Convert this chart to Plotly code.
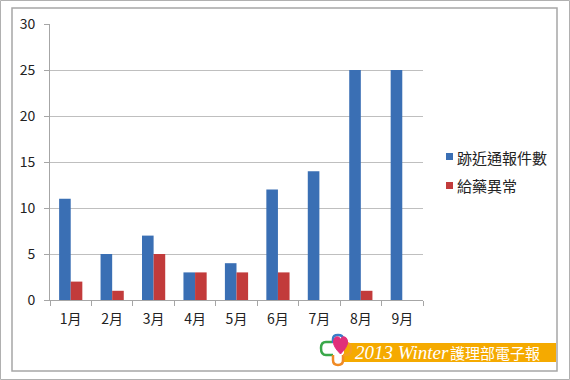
import plotly.graph_objects as go

months = ["1月", "2月", "3月", "4月", "5月", "6月", "7月", "8月", "9月"]
near_miss = [11, 5, 7, 3, 4, 12, 14, 25, 25]
med_error = [2, 1, 5, 3, 3, 3, None, 1, None]
series_names = ["跡近通報件數", "給藥異常"]
series_colors = ["#3a6fb4", "#c23b3b"]

W, H = 570, 380
L, R, T, B = 50, 423, 24, 300  # plot area in pixels

def px(x):
    return (x - L) / (R - L)

def py(y):
    return (B - y) / (B - T)

fig = go.Figure()
fig.add_bar(x=months, y=near_miss, name=series_names[0],
            marker=dict(color=series_colors[0], line=dict(width=0)))
fig.add_bar(x=months, y=med_error, name=series_names[1],
            marker=dict(color=series_colors[1], line=dict(width=0)))

font_cjk = "Noto Sans CJK TC, Noto Sans, sans-serif"

fig.update_layout(
    width=W, height=H,
    margin=dict(l=L, r=W - R, t=T, b=H - B, autoexpand=False),
    paper_bgcolor="white", plot_bgcolor="white",
    barmode="group", bargap=0.44, bargroupgap=0,
    font=dict(family=font_cjk, size=13, color="#222"),
    showlegend=False,
    xaxis=dict(showgrid=False, showline=True, linecolor="#a6a6a6", linewidth=1,
               ticks="outside", ticklen=5, tickcolor="#a6a6a6", tickson="boundaries",
               tickfont=dict(size=14), ticklabelstandoff=6, fixedrange=True),
    yaxis=dict(range=[0, 30], dtick=5, showgrid=True, gridcolor="#bfbfbf", gridwidth=1,
               showline=True, linecolor="#a6a6a6", linewidth=1, zeroline=False,
               ticks="outside", ticklen=5, tickcolor="#a6a6a6",
               tickfont=dict(size=14), ticklabelstandoff=6, fixedrange=True),
)

shapes = []
# outer image edge
shapes.append(dict(type="rect", xref="paper", yref="paper",
                   x0=px(0.5), x1=px(569.5), y0=py(0.5), y1=py(379.5),
                   line=dict(color="#b0b0b0", width=1), layer="below"))
# chart border
shapes.append(dict(type="rect", xref="paper", yref="paper",
                   x0=px(12), x1=px(557), y0=py(8), y1=py(371),
                   line=dict(color="#a6a6a6", width=1.5), layer="below"))

# manual legend
leg_y = [157, 186]
for name, color, yy in zip(series_names, series_colors, leg_y):
    shapes.append(dict(type="rect", xref="paper", yref="paper",
                       x0=px(446), x1=px(453), y0=py(yy + 3), y1=py(yy - 4),
                       fillcolor=color, line=dict(width=0)))
    fig.add_annotation(xref="paper", yref="paper", x=px(455), y=py(yy),
                       xanchor="left", yanchor="middle", showarrow=False,
                       text=name, font=dict(family=font_cjk, size=15, color="#222"))

# orange banner
shapes.append(dict(type="rect", xref="paper", yref="paper",
                   x0=px(344), x1=px(556), y0=py(343), y1=py(362),
                   fillcolor="#f5aa00", line=dict(width=0)))

def arm(path_pts, color):
    return dict(type="path", xref="paper", yref="paper", path=path_pts,
                line=dict(color=color, width=2.5))

def P(x, y):
    return f"{px(x)},{py(y)}"

# left arm (green)
shapes.append(arm(f"M {P(333,342)} L {P(326,342)} Q {P(321,342)} {P(321,348)} "
                  f"Q {P(321,355)} {P(326,355)} L {P(333,355)}", "#3aa84a"))
# top arm (blue)
shapes.append(arm(f"M {P(333,343)} L {P(333,339)} Q {P(333,335)} {P(338,335)} "
                  f"Q {P(343,335)} {P(343,339)}", "#3a7cc8"))
# bottom arm (orange)
shapes.append(arm(f"M {P(333,355)} L {P(333,360)} Q {P(333,365)} {P(338,365)} "
                  f"Q {P(343,365)} {P(343,360)} L {P(343,355)}", "#f08a24"))
# right arm (orange)
shapes.append(arm(f"M {P(343,355)} L {P(346,355)} Q {P(351,355)} {P(351,349)} "
                  f"Q {P(351,343)} {P(346,343)}", "#f5a020"))
# heart
hx = 340.5
heart = (f"M {P(hx,354)} Q {P(hx-8,346)} {P(hx-7,341)} "
         f"Q {P(hx-6,336)} {P(hx-2,337)} Q {P(hx,338)} {P(hx,340)} "
         f"Q {P(hx,338)} {P(hx+2,337)} Q {P(hx+6,336)} {P(hx+7,341)} "
         f"Q {P(hx+8,346)} {P(hx,354)} Z")
shapes.append(dict(type="path", xref="paper", yref="paper", path=heart,
                   fillcolor="#e0307a", line=dict(color="#e0307a", width=1)))
fig.update_layout(shapes=shapes)

fig.add_annotation(xref="paper", yref="paper", x=px(353), y=py(352),
                   xanchor="left", yanchor="middle", showarrow=False,
                   text="<i>2013 Winter</i>",
                   font=dict(family="Liberation Serif, serif", size=19, color="white"))
fig.add_annotation(xref="paper", yref="paper", x=px(448), y=py(352),
                   xanchor="left", yanchor="middle", showarrow=False,
                   text="護理部電子報",
                   font=dict(family=font_cjk, size=15, color="white"))

fig.write_html("out.html", config={"displayModeBar": False})
